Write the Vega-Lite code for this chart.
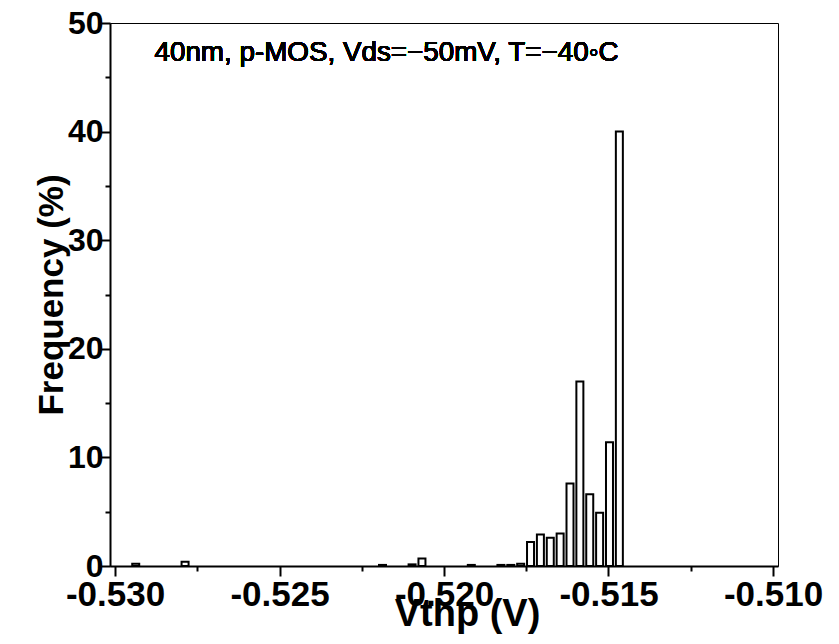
{
  "$schema": "https://vega.github.io/schema/vega-lite/v6.json",
  "autosize": {"type": "none"},
  "width": 668,
  "height": 543,
  "padding": {"left": 110, "top": 23, "right": 61, "bottom": 78},
  "background": "white",
  "config": {
    "view": {"stroke": "black", "strokeWidth": 1},
    "font": "Liberation Sans"
  },
  "data": {
    "values": [
      {"vthp": -0.52937, "freq": 0.2},
      {"vthp": -0.52787, "freq": 0.4},
      {"vthp": -0.52187, "freq": 0.1},
      {"vthp": -0.52097, "freq": 0.15},
      {"vthp": -0.52067, "freq": 0.7},
      {"vthp": -0.51917, "freq": 0.1},
      {"vthp": -0.51827, "freq": 0.1},
      {"vthp": -0.51797, "freq": 0.1},
      {"vthp": -0.51767, "freq": 0.2},
      {"vthp": -0.51737, "freq": 2.2},
      {"vthp": -0.51707, "freq": 2.9},
      {"vthp": -0.51677, "freq": 2.6},
      {"vthp": -0.51647, "freq": 3.0},
      {"vthp": -0.51617, "freq": 7.6},
      {"vthp": -0.51587, "freq": 17.0},
      {"vthp": -0.51557, "freq": 6.6},
      {"vthp": -0.51527, "freq": 4.9},
      {"vthp": -0.51497, "freq": 11.4},
      {"vthp": -0.51467, "freq": 40.0}
    ]
  },
  "layer": [
    {
      "mark": {"type": "bar", "fill": "white", "stroke": "black", "strokeWidth": 2, "size": 7},
      "encoding": {
        "x": {
          "field": "vthp",
          "type": "quantitative",
          "scale": {"domain": [-0.53, -0.51], "nice": false, "zero": false},
          "axis": {
            "values": [-0.53, -0.5275, -0.525, -0.5225, -0.52, -0.5175, -0.515, -0.5125, -0.51],
            "labelExpr": "round(datum.value*10000) % 50 == 0 ? '-' + format(abs(datum.value), '.3f') : ''",
            "tickSize": {"condition": {"test": "round(datum.value*10000) % 50 == 0", "value": 10}, "value": 5},
            "tickColor": "black",
            "tickWidth": 2,
            "domainColor": "black",
            "domainWidth": 2,
            "grid": false,
            "labelFont": "Liberation Sans",
            "labelFontSize": 35,
            "labelFontWeight": "bold",
            "labelColor": "black",
            "labelPadding": 1,
            "labelOverlap": false,
            "labelFlush": false,
            "title": "Vthp (V)",
            "titleFont": "Liberation Sans",
            "titleFontSize": 38,
            "titleFontWeight": "bold",
            "titleColor": "black",
            "titlePadding": -17,
            "titleX": 357
          }
        },
        "y": {
          "field": "freq",
          "type": "quantitative",
          "scale": {"domain": [0, 50], "nice": false},
          "axis": {
            "values": [0, 5, 10, 15, 20, 25, 30, 35, 40, 45, 50],
            "labelExpr": "datum.value % 10 == 0 ? datum.label : ''",
            "tickSize": {"condition": {"test": "datum.value % 10 == 0", "value": 9}, "value": 5},
            "tickColor": "black",
            "tickWidth": 2,
            "domainColor": "black",
            "domainWidth": 2,
            "grid": false,
            "labelFont": "Liberation Sans",
            "labelFontSize": 32,
            "labelFontWeight": "bold",
            "labelColor": "black",
            "labelPadding": -2,
            "labelOverlap": false,
            "labelFlush": false,
            "title": "Frequency (%)",
            "titleFont": "Liberation Sans",
            "titleFontSize": 35,
            "titleFontWeight": "bold",
            "titleColor": "black",
            "titlePadding": -2
          }
        }
      }
    },
    {
      "mark": {"type": "text", "align": "left", "baseline": "alphabetic", "font": "Liberation Sans", "fontSize": 27.8, "fontWeight": "normal", "color": "black"},
      "encoding": {
        "x": {"datum": -0.5288},
        "y": {"datum": 46.5},
        "text": {"value": "40nm, p-MOS, Vds=−50mV, T=−40◦C"}
      }
    }
  ]
}
